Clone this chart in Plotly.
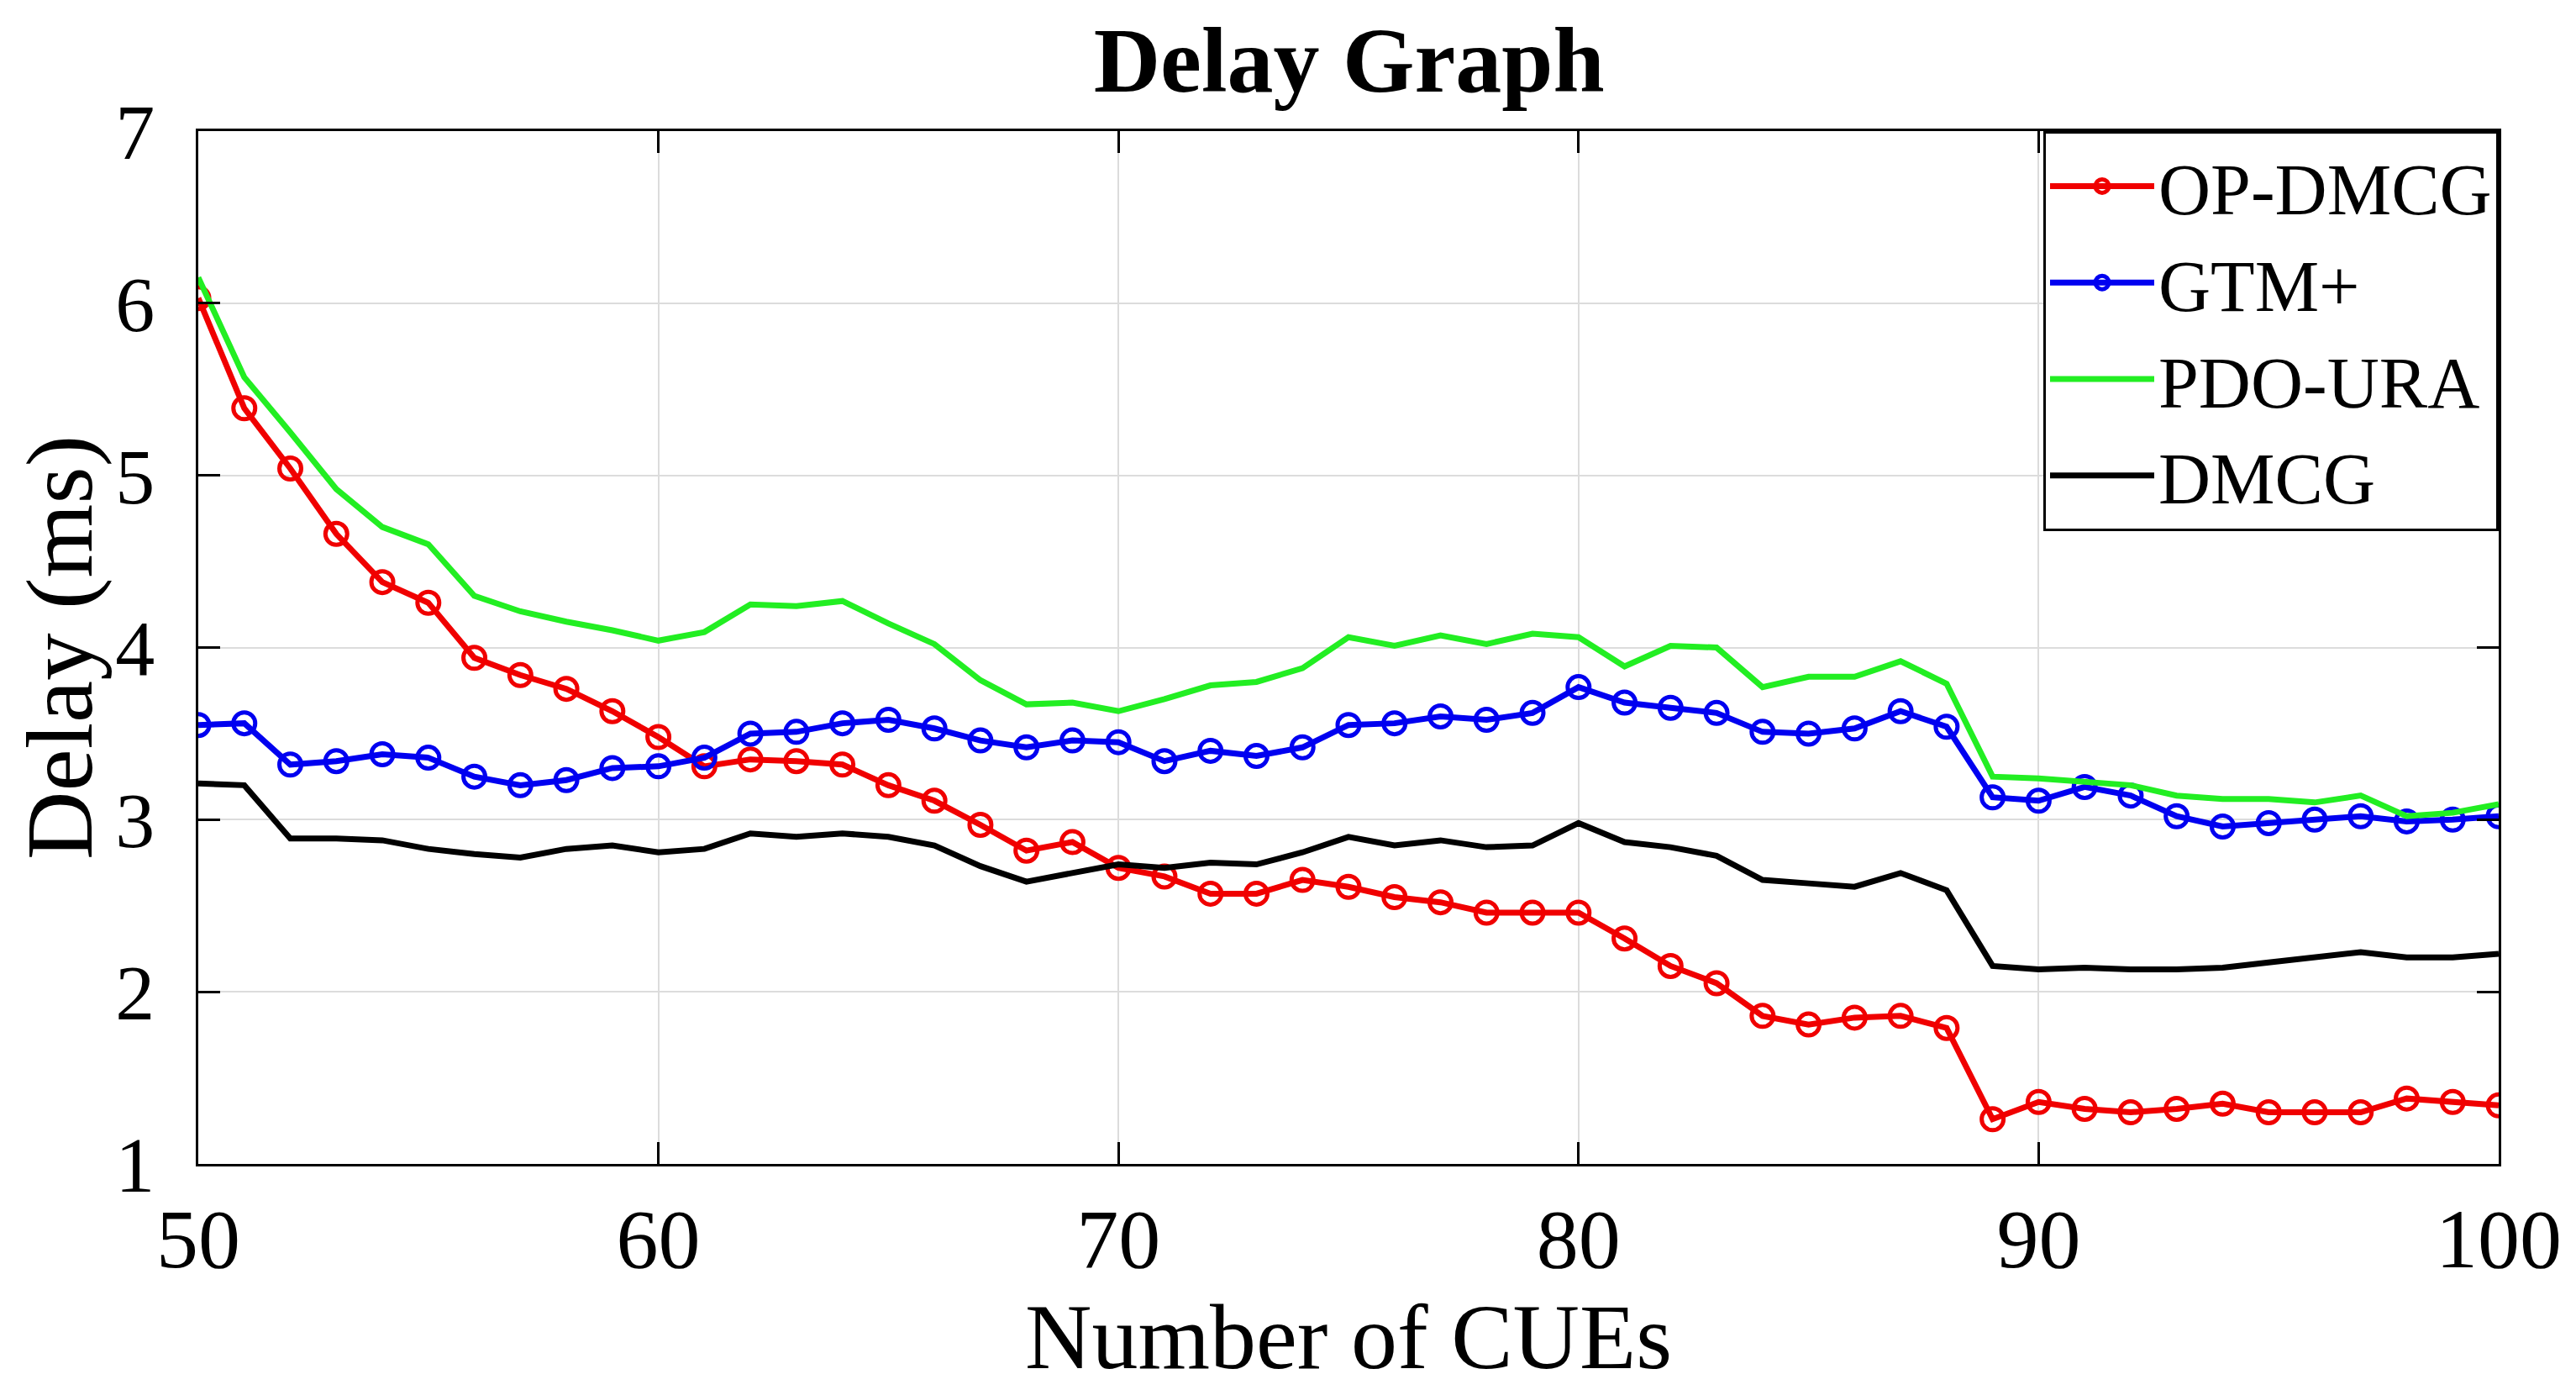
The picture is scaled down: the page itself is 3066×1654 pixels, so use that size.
import plotly.graph_objects as go

cues = list(range(50, 101))

op_dmcg = [6.03, 5.39, 5.04, 4.66, 4.38, 4.26, 3.94, 3.84, 3.76, 3.63,
           3.48, 3.31, 3.35, 3.34, 3.32, 3.20, 3.11, 2.97, 2.82, 2.87,
           2.72, 2.67, 2.57, 2.57, 2.65, 2.61, 2.55, 2.52, 2.46, 2.46,
           2.46, 2.31, 2.15, 2.05, 1.86, 1.81, 1.85, 1.86, 1.79, 1.26,
           1.36, 1.32, 1.30, 1.32, 1.35, 1.30, 1.30, 1.30, 1.38, 1.36, 1.34]

gtm_plus = [3.55, 3.56, 3.32, 3.34, 3.38, 3.36, 3.25, 3.20, 3.23, 3.30,
            3.31, 3.36, 3.50, 3.51, 3.56, 3.58, 3.53, 3.46, 3.42, 3.46,
            3.45, 3.34, 3.40, 3.37, 3.42, 3.55, 3.56, 3.60, 3.58, 3.62,
            3.77, 3.68, 3.65, 3.62, 3.51, 3.50, 3.53, 3.63, 3.54, 3.13,
            3.11, 3.19, 3.14, 3.02, 2.96, 2.98, 3.00, 3.02, 2.99, 3.00, 3.02]

pdo_ura = [6.15, 5.57, 5.25, 4.92, 4.70, 4.60, 4.30, 4.21, 4.15, 4.10,
           4.04, 4.09, 4.25, 4.24, 4.27, 4.14, 4.02, 3.81, 3.67, 3.68,
           3.63, 3.70, 3.78, 3.80, 3.88, 4.06, 4.01, 4.07, 4.02, 4.08,
           4.06, 3.89, 4.01, 4.00, 3.77, 3.83, 3.83, 3.92, 3.79, 3.25,
           3.24, 3.22, 3.20, 3.14, 3.12, 3.12, 3.10, 3.14, 3.02, 3.04, 3.09]

dmcg = [3.21, 3.20, 2.89, 2.89, 2.88, 2.83, 2.80, 2.78, 2.83, 2.85,
        2.81, 2.83, 2.92, 2.90, 2.92, 2.90, 2.85, 2.73, 2.64, 2.69,
        2.74, 2.72, 2.75, 2.74, 2.81, 2.90, 2.85, 2.88, 2.84, 2.85,
        2.98, 2.87, 2.84, 2.79, 2.65, 2.63, 2.61, 2.69, 2.59, 2.15,
        2.13, 2.14, 2.13, 2.13, 2.14, 2.17, 2.20, 2.23, 2.20, 2.20, 2.22]

x_ticks = [50, 60, 70, 80, 90, 100]
y_ticks = [1, 2, 3, 4, 5, 6, 7]

FONT = "Liberation Serif"

fig = go.Figure()
fig.add_trace(go.Scatter(x=cues, y=op_dmcg, name="OP-DMCG", mode="lines+markers",
                         line=dict(color="#F00000", width=7),
                         marker=dict(symbol="circle-open", size=26, color="#F00000",
                                     line=dict(width=5, color="#F00000"))))
fig.add_trace(go.Scatter(x=cues, y=gtm_plus, name="GTM+", mode="lines+markers",
                         line=dict(color="#0000F0", width=7),
                         marker=dict(symbol="circle-open", size=26, color="#0000F0",
                                     line=dict(width=5, color="#0000F0"))))
fig.add_trace(go.Scatter(x=cues, y=pdo_ura, name="PDO-URA", mode="lines",
                         line=dict(color="#22EE22", width=7)))
fig.add_trace(go.Scatter(x=cues, y=dmcg, name="DMCG", mode="lines",
                         line=dict(color="#000000", width=7)))

axis_common = dict(showline=True, linecolor="black", linewidth=3, mirror="ticks",
                   ticks="inside", ticklen=26, tickwidth=3, tickcolor="black",
                   showgrid=True, gridcolor="#DCDCDC", gridwidth=2, zeroline=False)

fig.update_layout(
    width=3066, height=1654,
    paper_bgcolor="white", plot_bgcolor="white",
    margin=dict(l=228, r=100, t=148, b=277),
    font=dict(family=FONT, color="black"),
    title=dict(text="<b>Delay Graph</b>", x=0.5211, xanchor="center",
               y=1 - 62 / 1654, yanchor="middle", yref="container",
               font=dict(family=FONT, size=110, color="black")),
    xaxis=dict(range=[50, 100], tickvals=x_ticks, tickfont=dict(size=100),
               ticklabelstandoff=0,
               title=dict(text="Number of CUEs", font=dict(size=110), standoff=22),
               **axis_common),
    yaxis=dict(range=[1, 7], tickvals=y_ticks, tickfont=dict(size=94),
               ticklabelstandoff=30,
               title=dict(text="Delay (ms)", font=dict(size=113), standoff=20),
               **axis_common),
    legend=dict(x=1, y=1, xanchor="right", yanchor="top", bgcolor="white",
                bordercolor="black", borderwidth=3, itemwidth=124,
                font=dict(family=FONT, size=86, color="black"),
                tracegroupgap=0),
    showlegend=True,
)

fig.write_html("out.html")
